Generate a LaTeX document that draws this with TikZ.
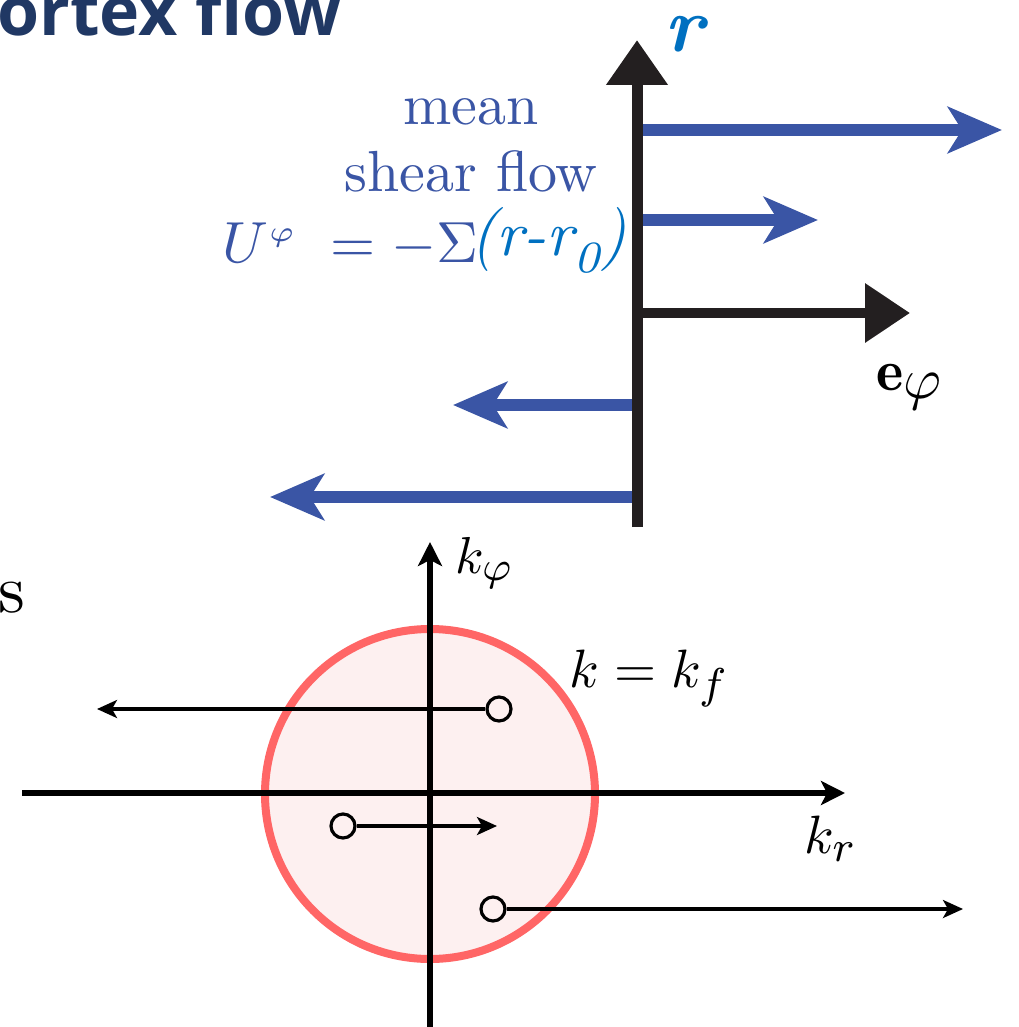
\documentclass[tikz,border=0pt]{standalone}
\usepackage{fontspec}
\usepackage{graphicx}
\newfontfamily\titlefont{Open Sans}
\usetikzlibrary{arrows.meta}
\DeclareMathSizes{10}{10}{8}{6}
\definecolor{shearblue}{RGB}{58,85,165}
\definecolor{rblue}{RGB}{0,112,192}
\definecolor{navy}{RGB}{32,56,100}
\definecolor{ringred}{RGB}{255,102,102}
\definecolor{ringfill}{RGB}{253,240,240}
\definecolor{axisblack}{RGB}{35,31,32}
\newcommand{\sbx}[2]{\scalebox{#1}{#2}}
\tikzset{
  txt/.style={inner sep=0pt, anchor=base west, font=\fontsize{10}{12}\selectfont},
  shear/.style={draw=shearblue, line width=6pt, -{Stealth[length=27pt,width=23pt,inset=7pt]}},
  bigaxis/.style={draw=axisblack, line width=5.5pt, -{Triangle[length=22.5pt,width=29.5pt]}},
  kaxis/.style={draw=black, line width=3.2pt, -{Stealth[length=12pt,width=12pt,inset=3pt]}},
  packet/.style={draw=black, circle, line width=1.6pt, minimum size=12pt, inner sep=0pt},
  kmove/.style={draw=black, line width=1.6pt, -{Stealth[length=10pt,width=9pt,inset=2.5pt]}},
}
\begin{document}
\begin{tikzpicture}[x=0.5pt,y=-0.5pt]
\useasboundingbox (0,0) rectangle (1018,1027);

% title fragment
\node[txt, text=navy, font=\titlefont\bfseries\fontsize{34}{40}\selectfont] (title) at (-3,36) {ortex flow};

% ---------- upper part: shear flow ----------
\coordinate (axbot) at (637,527);
\coordinate (axtop) at (637,40);
\coordinate (s1a) at (637,130); \coordinate (s1b) at (1002,130);
\coordinate (s2a) at (637,220); \coordinate (s2b) at (818,220);
\coordinate (s3a) at (637,405); \coordinate (s3b) at (453,405);
\coordinate (s4a) at (637,497); \coordinate (s4b) at (270,497);
\coordinate (ea) at (637,313); \coordinate (eb) at (910,313);

\draw[shear] (s1a) -- (s1b);
\draw[shear] (s2a) -- (s2b);
\draw[shear] (s3a) -- (s3b);
\draw[shear] (s4a) -- (s4b);
\draw[draw=axisblack, line width=5pt, -{Triangle[length=22.5pt,width=28.5pt]}] (ea) -- (eb);
\draw[bigaxis] (axbot) -- (axtop);

\node[txt, text=rblue] (rlab) at (664,52) {\sbx{3.9}{\bfseries\itshape r}};
\node[txt, anchor=base, text=shearblue] (mean) at (471,125) {\sbx{2.9}{mean}};
\node[txt, anchor=base, text=shearblue] (shearlab) at (471,192) {\sbx{2.9}{shear flow}};
\node[txt, text=shearblue] (Ulab) at (222,263) {\sbx{2.9}{$U^{\mbox{\fontsize{4.5}{5}\selectfont$\varphi$}}\;=-\Sigma$}};
\node[txt, text=rblue] (rrlab) at (470,256) {\sbx{3.2}{\itshape (r-r\raisebox{-0.25em}{\fontsize{7}{8}\selectfont 0})}};
\node[txt] (elab) at (876,390) {\sbx{2.9}{$\mathbf{e}_{\textstyle\varphi}$}};

% ---------- lower part: wavevector plane ----------
\node[txt] (sfrag) at (-2,612) {\sbx{3.4}{s}};

\node[circle, draw=ringred, fill=ringfill, line width=4pt, minimum size=165pt, inner sep=0pt] (ring) at (430,794) {};

\coordinate (kvb) at (430,1032); \coordinate (kvt) at (430,542);
\coordinate (khl) at (22,793); \coordinate (khr) at (845,793);
\draw[kaxis] (kvb) -- (kvt);
\draw[kaxis] (khl) -- (khr);

\node[packet] (c1) at (499,709) {};
\node[packet] (c2) at (343,826) {};
\node[packet] (c3) at (493,909) {};
\coordinate (e1) at (97,709);
\coordinate (e2) at (497,826);
\coordinate (e3) at (963,909);
\draw[kmove] (c1.west) -- (e1);
\draw[kmove] (c2.east) -- (e2);
\draw[kmove] (c3.east) -- (e3);

\node[txt] (kphi) at (455,573) {\sbx{2.6}{$k_{\varphi}$}};
\node[txt] (kf) at (569,687) {\sbx{2.7}{$k=k_f$}};
\node[txt] (kr) at (804,853) {\sbx{2.7}{$k_r$}};
\end{tikzpicture}
\end{document}
